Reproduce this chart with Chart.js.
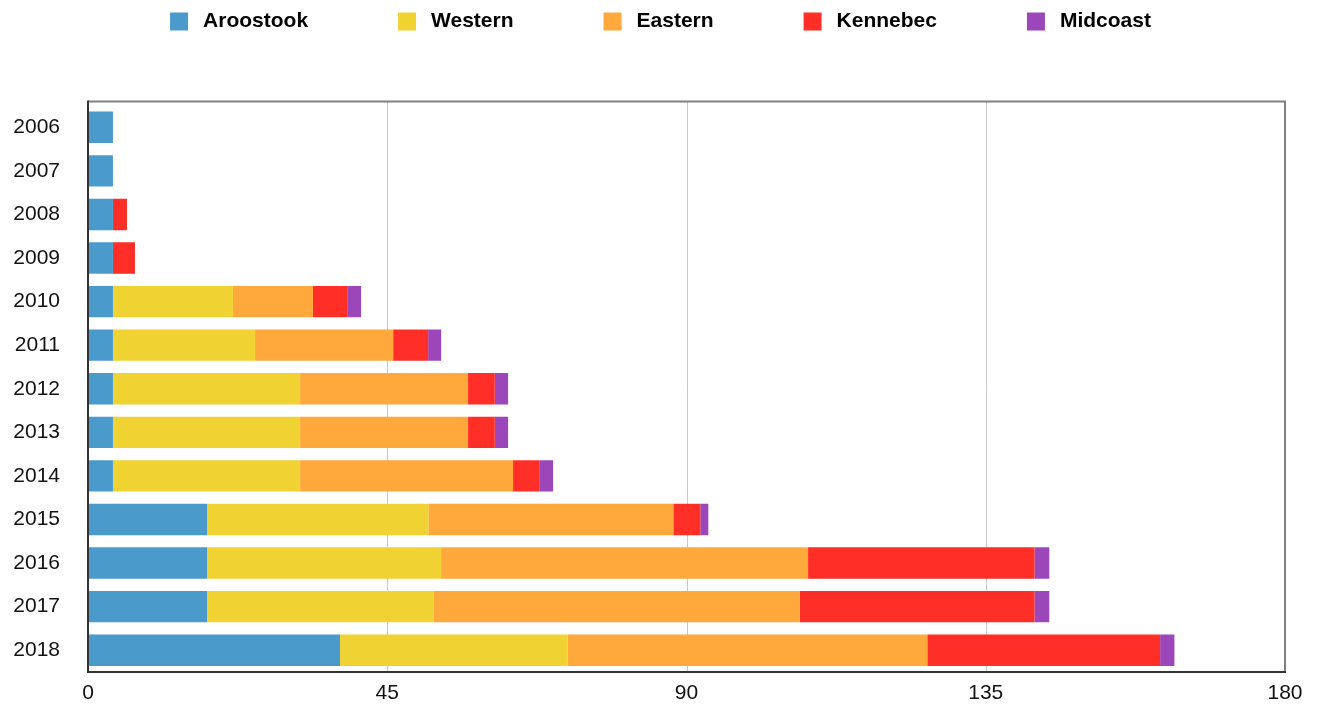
<!DOCTYPE html>
<html>
<head>
<meta charset="utf-8">
<script src="https://cdn.jsdelivr.net/npm/chart.js@4"></script>
<style>
html,body{margin:0;padding:0;background:#fff;}
#wrap{width:1317px;height:704px;position:relative;}
</style>
</head>
<body>
<div id="wrap"><canvas id="c"></canvas></div>
<script>
const years = ['2006','2007','2008','2009','2010','2011','2012','2013','2014','2015','2016','2017','2018'];
const seriesNames = ['Aroostook','Western','Eastern','Kennebec','Midcoast'];
const aroostook = [3.75,3.75,3.75,3.75,3.75,3.75,3.75,3.75,3.75,17.9,17.9,17.9,37.9];
const western   = [0,0,0,0,18.05,21.37,28.14,28.14,28.14,33.29,35.19,34.03,34.2];
const eastern   = [0,0,0,0,12.03,20.77,25.26,25.26,32.03,36.83,55.19,55.12,54.11];
const kennebec  = [0,0,2.11,3.31,5.24,5.26,4.02,4.02,4.02,4.06,34.05,35.28,35.01];
const midcoast  = [0,0,0,0,2.0,1.96,2.0,2.0,2.0,1.2,2.23,2.23,2.15];
const xTicks = [0,45,90,135,180];
const colors = ['#4A9BCB','#F0D232','#FFA83C','#FF2E26','#9B46B9'];

const FONT = "'Liberation Sans', Arial, sans-serif";
const FRAME_TOP = 101.5;

const frameAndLegend = {
  id: 'frameAndLegend',
  beforeDatasetsDraw(chart) {
    const {ctx, chartArea: a, scales: {x}} = chart;
    ctx.save();
    ctx.strokeStyle = '#c8c8c8';
    ctx.lineWidth = 1;
    xTicks.forEach(v => {
      if (v === x.min || v === x.max) return;
      const px = Math.round(x.getPixelForValue(v)) + 0.5;
      ctx.beginPath();
      ctx.moveTo(px, FRAME_TOP);
      ctx.lineTo(px, a.bottom);
      ctx.stroke();
    });
    ctx.restore();
  },
  afterDraw(chart) {
    const {ctx, chartArea: a} = chart;
    ctx.save();
    // frame
    ctx.lineWidth = 2;
    ctx.strokeStyle = '#808080';
    ctx.beginPath();
    ctx.moveTo(a.left, FRAME_TOP); ctx.lineTo(a.right, FRAME_TOP); ctx.lineTo(a.right, a.bottom);
    ctx.stroke();
    ctx.strokeStyle = '#333333';
    ctx.beginPath();
    ctx.moveTo(a.left, FRAME_TOP - 1); ctx.lineTo(a.left, a.bottom); ctx.lineTo(a.right + 1, a.bottom);
    ctx.stroke();
    // legend
    ctx.font = "bold 21px " + FONT;
    ctx.textBaseline = 'middle';
    ctx.textAlign = 'left';
    const box = 18, gap = 15, spacing = 90;
    const ds = chart.data.datasets;
    const widths = ds.map(d => ctx.measureText(d.label).width);
    let total = widths.reduce((s, w) => s + box + gap + w, 0) + spacing * (ds.length - 1);
    let x = (chart.width - total) / 2 + 2;
    const yc = 21.5;
    ds.forEach((d, i) => {
      ctx.fillStyle = d.backgroundColor;
      ctx.fillRect(x, yc - box / 2, box, box);
      ctx.fillStyle = '#000';
      ctx.fillText(d.label, x + box + gap, yc);
      x += box + gap + widths[i] + spacing;
    });
    ctx.restore();
  }
};

const dataArrays = [aroostook, western, eastern, kennebec, midcoast];

new Chart(document.getElementById('c'), {
  type: 'bar',
  data: {
    labels: years,
    datasets: seriesNames.map((n, i) => ({
      label: n,
      data: dataArrays[i],
      backgroundColor: colors[i],
      borderWidth: 0,
      barPercentage: 0.72,
      categoryPercentage: 1.0
    }))
  },
  options: {
    indexAxis: 'y',
    responsive: true,
    maintainAspectRatio: false,
    animation: false,
    layout: { padding: { top: 105.5, right: 32, bottom: 0, left: 0 } },
    plugins: {
      legend: { display: false },
      tooltip: { enabled: false }
    },
    scales: {
      x: {
        stacked: true,
        min: 0,
        max: 180,
        afterBuildTicks: (scale) => { scale.ticks = xTicks.map(v => ({ value: v })); },
        afterFit: (scale) => { scale.height = 32; },
        grid: { display: false, drawTicks: false },
        border: { display: false },
        ticks: {
          color: '#111',
          font: { family: FONT, size: 21 },
          padding: 9,
          maxRotation: 0
        }
      },
      y: {
        stacked: true,
        afterFit: (scale) => { scale.width = 88; scale.paddingTop = 0; scale.paddingBottom = 0; },
        grid: { display: false, drawTicks: false },
        border: { display: false },
        ticks: {
          color: '#111',
          font: { family: FONT, size: 21 },
          padding: 28
        }
      }
    }
  },
  plugins: [frameAndLegend]
});
</script>
</body>
</html>
